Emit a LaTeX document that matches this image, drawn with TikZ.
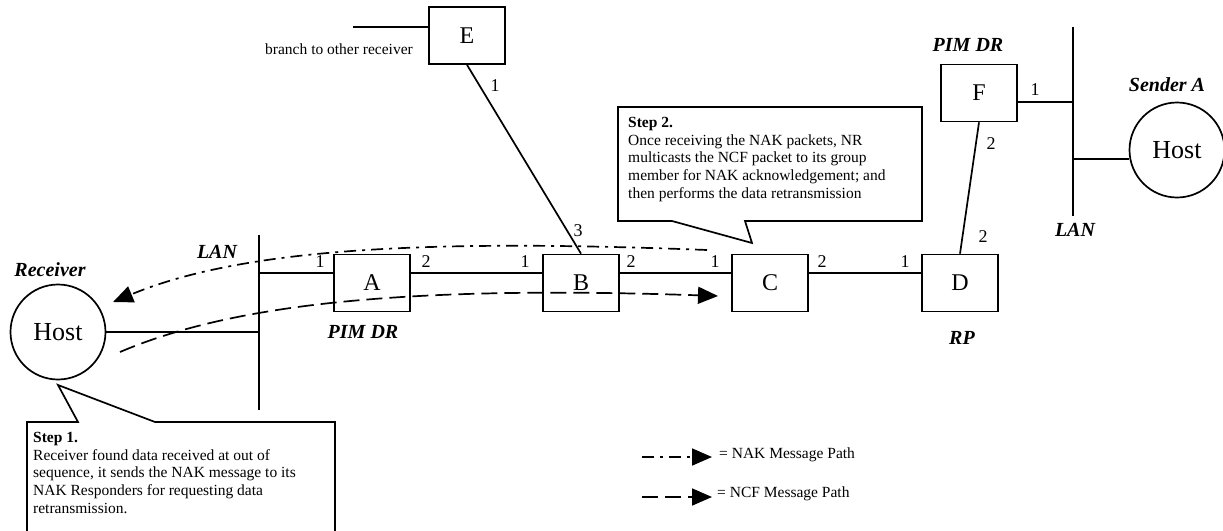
\documentclass[tikz,border=0pt]{standalone}
\usepackage{fontspec}
\setmainfont{Liberation Serif}
\usetikzlibrary{arrows.meta}

\tikzset{
  router/.style={draw, line width=1.7pt, minimum width=76pt, minimum height=57pt, inner sep=0pt, font=\fontsize{24}{24}\selectfont},
  host/.style={draw, circle, line width=1.7pt, minimum size=95pt, inner sep=0pt, font=\fontsize{26}{26}\selectfont},
  link/.style={line width=1.7pt},
  tag/.style={font=\fontsize{20}{20}\selectfont\bfseries\itshape},
  port/.style={font=\fontsize{18}{18}\selectfont, inner sep=0pt},
  note/.style={font=\fontsize{15.5}{17.7}\selectfont, align=left, inner sep=0pt, anchor=north west},
  nakpath/.style={line width=1.7pt, dash pattern=on 12pt off 6pt on 3pt off 6pt, -{Triangle[length=20pt,width=17pt]}},
  ncfpath/.style={line width=1.7pt, dash pattern=on 16pt off 7pt, -{Triangle[length=20pt,width=17pt]}}
}

\begin{document}
\begin{tikzpicture}[x=1pt,y=-1pt]
\useasboundingbox (0,0) rectangle (1223,530);
% routers and hosts
\node[router] (A) at (372,283) {A};
\node[router] (B) at (581,283) {B};
\node[router] (C) at (770,283) {C};
\node[router] (D) at (960,283) {D};
\node[router] (E) at (467,35.5) {E};
\node[router] (F) at (979,93) {F};
\node[host] (recv) at (58,332) {Host};
\node[host] (sender) at (1177,150) {Host};
% LAN segments
\coordinate (lanLtop) at (259,235);
\coordinate (lanLbot) at (259,410);
\coordinate (lanRtop) at (1073,27);
\coordinate (lanRbot) at (1073,216);
\coordinate (lanRh) at (1073,159);
\coordinate (branch) at (353,27);
\draw[line width=2pt] (lanLtop) -- (lanLbot);
\draw[line width=2pt] (lanRtop) -- (lanRbot);
% links
\draw[link] (recv.east) -- (recv.east -| lanLtop);
\draw[link] ([yshift=10pt]A.west -| lanLtop) -- ([yshift=10pt]A.west);
\draw[link] ([yshift=10pt]A.east) -- ([yshift=10pt]B.west);
\draw[link] ([yshift=10pt]B.east) -- ([yshift=10pt]C.west);
\draw[link] ([yshift=10pt]C.east) -- ([yshift=10pt]D.west);
\draw[link] (E.south) -- (B.north);
\draw[link] (F.south) -- (D.north);
\draw[link] ([yshift=-9pt]F.east) -- ([yshift=-9pt]F.east -| lanRtop);
\draw[link] (lanRh) -- (lanRh -| sender.west);
\draw[link] (branch) -- ([yshift=8.5pt]E.west);
\node[font=\fontsize{15.5}{15.5}\selectfont, inner sep=0pt] (branchtxt) at (339,49) {branch to other receiver};
% port numbers
\node[port] at (320,262) {1};
\node[port] at (426,262) {2};
\node[port] at (525,262) {1};
\node[port] at (631,262) {2};
\node[port] at (715,262) {1};
\node[port] at (822,262) {2};
\node[port] at (905,262) {1};
\node[port] at (495,86) {1};
\node[port] at (578,231) {3};
\node[port] at (991,144) {2};
\node[port] at (983,237) {2};
\node[port] at (1035,90) {1};
% names
\node[tag] at (50,270) {Receiver};
\node[tag] at (217,252) {LAN};
\node[tag] at (363,332) {PIM DR};
\node[tag] at (962,338) {RP};
\node[tag] at (968,45) {PIM DR};
\node[tag] at (1167,85) {Sender A};
\node[tag] at (1075,230) {LAN};
% callouts
\draw[link] (27,531) -- (27,422) -- (78,422) -- (58,385) -- (155,422) -- (335,422) -- (335,531);
\node[note] (step1) at (33,432) {\textbf{Step 1.}\\Receiver found data received at out of\\sequence, it sends the NAK message to its\\NAK Responders for requesting data\\retransmission.};
\draw[link] (618,107) -- (922,107) -- (922,221) -- (745,221) -- (752,243) -- (672,221) -- (618,221) -- cycle;
\node[note] (step2) at (628,117) {\textbf{Step 2.}\\Once receiving the NAK packets, NR\\multicasts the NCF packet to its group\\member for NAK acknowledgement; and\\then performs the data retransmission};
% message paths
\coordinate (nakS) at (707,250);
\coordinate (nakT) at (113,302);
\coordinate (ncfS) at (120,352);
\coordinate (ncfT) at (718,296);
\draw[nakpath] (nakS) .. controls (450,240) and (250,245) .. (nakT);
\draw[ncfpath] (ncfS) .. controls (230,305) and (400,285) .. (ncfT);
% legend
\coordinate (lg1a) at (642,457);
\coordinate (lg1b) at (712,457);
\coordinate (lg2a) at (642,497);
\coordinate (lg2b) at (712,497);
\draw[nakpath] (lg1a) -- (lg1b);
\draw[ncfpath] (lg2a) -- (lg2b);
\node[font=\fontsize{15.5}{15.5}\selectfont, anchor=west, inner sep=0pt] (lg1txt) at (719,455) {= NAK Message Path};
\node[font=\fontsize{15.5}{15.5}\selectfont, anchor=west, inner sep=0pt] (lg2txt) at (717,494) {= NCF Message Path};
\end{tikzpicture}
\end{document}
